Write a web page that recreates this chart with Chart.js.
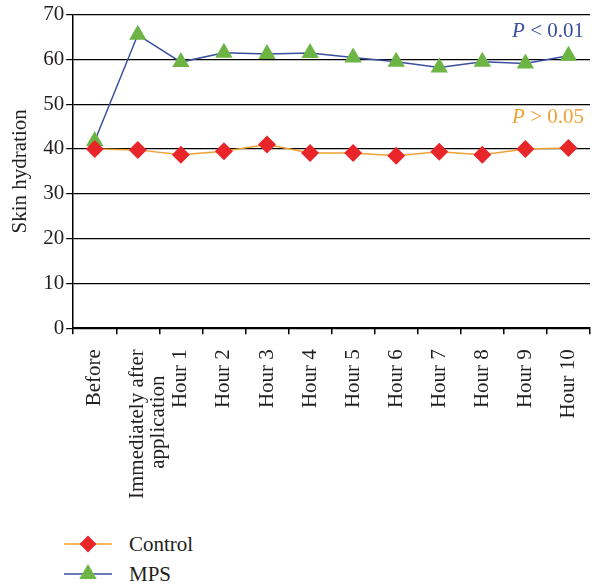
<!DOCTYPE html>
<html>
<head>
<meta charset="utf-8">
<script src="https://cdn.jsdelivr.net/npm/chart.js@4.4.0/dist/chart.umd.min.js"></script>
<style>
  body { margin: 0; background: #fff; font-family: "Liberation Serif", serif; }
  #wrap { position: relative; width: 600px; height: 585px; }
  #box { position: absolute; left: 0; top: 0; width: 600px; height: 515px; }
  .leg { position: absolute; left: 64px; height: 24px; display: flex; align-items: center; font-size: 21px; color: #231f20; }
  .leg canvas { margin-right: 16px; }
</style>
</head>
<body>
<div id="wrap">
  <div id="box"><canvas id="skinChart"></canvas></div>
  <div class="leg" style="top:532px"><canvas id="legControl" width="49" height="24"></canvas>Control</div>
  <div class="leg" style="top:562px"><canvas id="legMps" width="49" height="24"></canvas>MPS</div>
</div>
<script>
// trailing no-break spaces keep the second line centred under the first once rotated
var timePoints = ["Before", ["Immediately after", "application\u00a0\u00a0\u00a0\u00a0\u00a0"], "Hour 1", "Hour 2", "Hour 3", "Hour 4",
  "Hour 5", "Hour 6", "Hour 7", "Hour 8", "Hour 9", "Hour 10"];
var controlValues = [40.0, 39.8, 38.7, 39.5, 41.0, 39.1, 39.1, 38.5, 39.4, 38.7, 40.0, 40.2];
var mpsValues = [41.8, 65.5, 59.4, 61.5, 61.2, 61.4, 60.4, 59.5, 58.2, 59.5, 59.1, 60.8];
var yTicks = [0, 10, 20, 30, 40, 50, 60, 70];
var pNotes = [
  { text: " < 0.01", at: 66.2, color: "#3b4fa0" },
  { text: " > 0.05", at: 47.0, color: "#f0a135" }
];

var serif = "'Liberation Serif', serif";
var ink = "#231f20";
var fontSize = 21;

// P value notes in the top right corner of the plot
var pNotePlugin = {
  id: "pNotes",
  afterDatasetsDraw: function (chart) {
    var ctx = chart.ctx;
    var area = chart.chartArea;
    var y = chart.scales.y;
    ctx.save();
    ctx.textBaseline = "middle";
    pNotes.forEach(function (n) {
      ctx.font = fontSize + "px " + serif;
      var restW = ctx.measureText(n.text).width;
      ctx.font = "italic " + fontSize + "px " + serif;
      var pW = ctx.measureText("P").width;
      var x = area.right - 6 - restW - pW;
      var py = y.getPixelForValue(n.at);
      ctx.fillStyle = n.color;
      ctx.textAlign = "left";
      ctx.fillText("P", x, py);
      ctx.font = fontSize + "px " + serif;
      ctx.fillText(n.text, x + pW, py);
    });
    ctx.restore();
  }
};

new Chart(document.getElementById("skinChart"), {
  type: "line",
  data: {
    labels: timePoints,
    datasets: [{
      label: "Control",
      data: controlValues,
      borderColor: "#f0a135",
      borderWidth: 1.5,
      pointStyle: "rectRot",
      pointRadius: 9,
      pointBackgroundColor: "#e8262a",
      pointBorderColor: "#e8262a",
      pointBorderWidth: 0,
      tension: 0
    }, {
      label: "MPS",
      data: mpsValues,
      borderColor: "#3b4fa0",
      borderWidth: 1.5,
      pointStyle: "triangle",
      pointRadius: 10,
      pointBackgroundColor: "#6cb545",
      pointBorderColor: "#6cb545",
      pointBorderWidth: 0,
      tension: 0
    }]
  },
  options: {
    responsive: true,
    maintainAspectRatio: false,
    animation: false,
    layout: { padding: { top: 13, right: 4, left: 8, bottom: 1 } },
    plugins: { legend: { display: false }, tooltip: { enabled: false } },
    scales: {
      x: {
        offset: true,
        afterFit: function (s) { s.paddingRight = 0; },
        grid: {
          offset: true,
          drawOnChartArea: true,
          color: function (c) { return c.index === timePoints.length ? "#000" : "rgba(0,0,0,0)"; },
          tickColor: "#000",
          tickLength: 6,
          lineWidth: 1.5
        },
        border: { color: "#000", width: 1.5 },
        ticks: {
          color: ink,
          font: { family: serif, size: fontSize, lineHeight: 1.0 },
          maxRotation: 90,
          minRotation: 90,
          padding: 15,
          autoSkip: false
        }
      },
      y: {
        min: 0,
        max: 70,
        afterBuildTicks: function (s) { s.ticks = yTicks.map(function (v) { return { value: v }; }); },
        grid: { color: "#000", tickColor: "#000", tickLength: 7, lineWidth: 1.2 },
        border: { color: "#000", width: 1.5 },
        ticks: { color: ink, font: { family: serif, size: fontSize }, padding: 2 },
        title: {
          display: true,
          text: "Skin hydration",
          color: ink,
          font: { family: serif, size: fontSize },
          padding: { top: 0, bottom: 8 }
        }
      }
    }
  },
  plugins: [pNotePlugin]
});

// legend symbols: short line with the series marker
function legendSymbol(id, lineColor, fill, shape) {
  var c = document.getElementById(id).getContext("2d");
  c.strokeStyle = lineColor;
  c.lineWidth = 1.5;
  c.beginPath(); c.moveTo(0, 12); c.lineTo(48, 12); c.stroke();
  c.fillStyle = fill;
  c.beginPath();
  if (shape === "diamond") {
    c.moveTo(24, 3.5); c.lineTo(32.5, 12); c.lineTo(24, 20.5); c.lineTo(15.5, 12);
  } else {
    c.moveTo(24, 2); c.lineTo(32.7, 17); c.lineTo(15.3, 17);
  }
  c.closePath(); c.fill();
}
legendSymbol("legControl", "#f0a135", "#e8262a", "diamond");
legendSymbol("legMps", "#3b4fa0", "#6cb545", "triangle");
</script>
</body>
</html>
